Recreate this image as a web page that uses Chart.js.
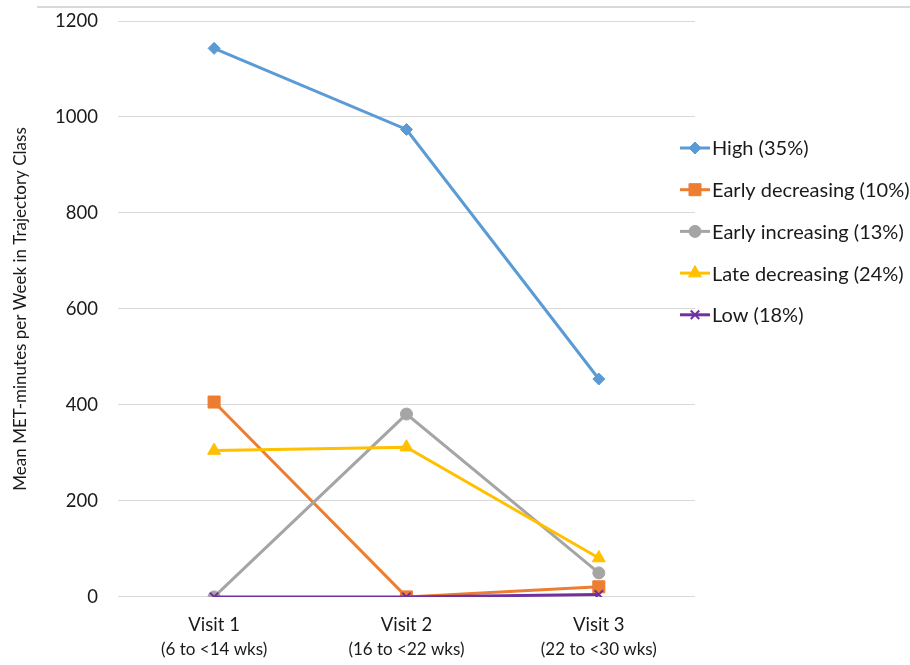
<!DOCTYPE html>
<html>
<head>
<meta charset="utf-8">
<script src="https://cdn.jsdelivr.net/npm/chart.js@4.4.0/dist/chart.umd.min.js"></script>
<style>
    html, body { margin: 0; padding: 0; background: #fff; }
    #wrap { position: relative; width: 910px; height: 665px; }
    #topline { position: absolute; left: 37px; right: 0; top: 6px; border-top: 2px solid #d9d9d9; }
</style>
</head>
<body>
<div id="wrap">
    <canvas id="canva" width="910" height="665"></canvas>
    <div id="topline"></div>
</div>
<script>
const visitas = ["Visit 1", "Visit 2", "Visit 3"];
const semanas = ["(6 to <14 wks)", "(16 to <22 wks)", "(22 to <30 wks)"];
const nombres = ["High (35%)", "Early decreasing (10%)", "Early increasing (13%)", "Late decreasing (24%)", "Low (18%)"];
const alto = [1143, 974, 454];
const tempranoBaja = [406, 0, 21];
const tempranoSube = [0, 381, 50];
const tardeBaja = [305, 312, 81];
const bajo = [0, 0, 5];
const marcasY = [0, 200, 400, 600, 800, 1000, 1200];

const fuente = "Lato, 'Open Sans', sans-serif";
const texto = "#1a1a1a";

function serie(i, valores, color, estilo, radio) {
    return {
        label: nombres[i],
        data: valores,
        borderColor: color,
        backgroundColor: color,
        pointBackgroundColor: color,
        pointBorderColor: color,
        borderWidth: 3,
        pointStyle: estilo,
        pointRadius: radio,
        pointBorderWidth: estilo === "crossRot" ? 2 : 1,
        tension: 0,
        order: 5 - i
    };
}

// alto del eje x = padding + una linea de texto (Chart.js cuenta el padding dos veces)
function altoEje(axis) {
    const t = axis.options.ticks;
    axis.height = t.padding + t.font.size * 1.2;
}

// leyenda dibujada a mano: linea con marcador como en Excel
const leyenda = {
    id: "leyenda",
    afterDraw(chart) {
        const c = chart.ctx;
        const x0 = chart.chartArea.right - 15;
        chart.data.datasets.forEach((ds, i) => {
            const y = 148 + i * 41.7;
            c.save();
            c.strokeStyle = ds.borderColor;
            c.fillStyle = ds.borderColor;
            c.lineWidth = 3;
            c.beginPath();
            c.moveTo(x0, y);
            c.lineTo(x0 + 30, y);
            c.stroke();
            c.lineWidth = ds.pointBorderWidth;
            Chart.helpers.drawPoint(c, {
                pointStyle: ds.pointStyle,
                radius: ds.pointRadius,
                borderWidth: ds.pointBorderWidth,
                rotation: 0
            }, x0 + 15, y);
            c.fillStyle = texto;
            c.font = "20px " + fuente;
            c.textBaseline = "middle";
            c.fillText(ds.label, x0 + 32, y + 1);
            c.restore();
        });
    }
};

const ctx = document.getElementById("canva").getContext("2d");
const chart = new Chart(ctx, {
    type: "line",
    data: {
        labels: visitas,
        datasets: [
            serie(0, alto, "#5B9BD5", "rectRot", 6),
            serie(1, tempranoBaja, "#ED7D31", "rect", 8.5),
            serie(2, tempranoSube, "#A5A5A5", "circle", 6),
            serie(3, tardeBaja, "#FFC000", "triangle", 7.5),
            serie(4, bajo, "#7030A0", "crossRot", 6)
        ]
    },
    options: {
        responsive: false,
        animation: false,
        layout: { padding: { left: 10, right: 215, top: 21, bottom: 5 } },
        plugins: {
            legend: { display: false },
            tooltip: { enabled: false }
        },
        scales: {
            x: {
                offset: true,
                grid: { display: false, drawTicks: false },
                border: { display: false },
                ticks: { color: texto, font: { family: fuente, size: 18.5 }, padding: 17 },
                afterFit: altoEje
            },
            x2: {
                type: "category",
                labels: semanas,
                position: "bottom",
                offset: true,
                grid: { display: false, drawTicks: false },
                border: { display: false },
                ticks: { color: texto, font: { family: fuente, size: 17 }, padding: 3.5 },
                afterFit: altoEje
            },
            y: {
                min: 0,
                max: 1200,
                afterBuildTicks: (axis) => { axis.ticks = marcasY.map(v => ({ value: v })); },
                afterFit: (axis) => { axis.paddingTop = 0; axis.paddingBottom = 0; },
                grid: { color: "#d9d9d9", lineWidth: 1, drawTicks: false },
                border: { display: false },
                ticks: {
                    color: texto,
                    font: { family: fuente, size: 18.5 },
                    padding: 20,
                    callback: (v) => String(v)
                },
                title: {
                    display: true,
                    text: "Mean MET-minutes per Week in Trajectory Class",
                    color: texto,
                    font: { family: fuente, size: 17 },
                    padding: { top: 0, bottom: 4.6 }
                }
            }
        }
    },
    plugins: [leyenda]
});
</script>
</body>
</html>
